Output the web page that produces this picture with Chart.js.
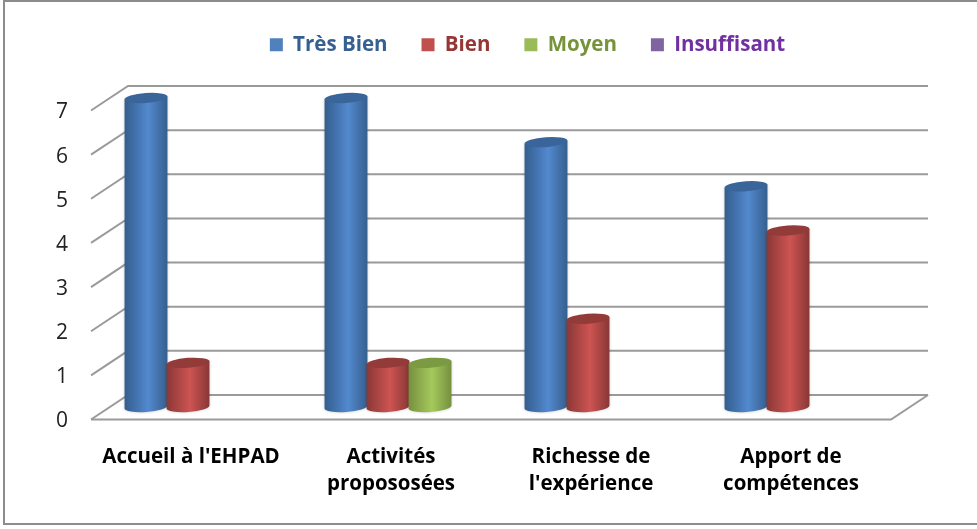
<!DOCTYPE html>
<html lang="fr">
<head>
<meta charset="utf-8">
<title>Accueil EHPAD</title>
<script src="https://cdn.jsdelivr.net/npm/chart.js@4"></script>
<style>
    html, body { margin: 0; padding: 0; background: #fff; }
    canvas { display: block; }
</style>
</head>
<body>
<canvas id="chart" width="977" height="529"></canvas>
<script>
const categories = ["Accueil à l'EHPAD", ['Activités', 'propososées'], ['Richesse de', "l'expérience"], ['Apport de', 'compétences']];
const seriesNames = ['Très Bien', 'Bien', 'Moyen', 'Insuffisant'];
const tresBien = [7, 7, 6, 5];
const bien = [1, 1, 2, 4];
const moyen = [0, 1, 0, 0];
const insuffisant = [0, 0, 0, 0];
const yTicks = [0, 1, 2, 3, 4, 5, 6, 7];

const swatchColors = ['#4f81bd', '#c0504d', '#9bbb59', '#8064a2'];
const legendTextColors = ['#376092', '#953735', '#76933c', '#7030a0'];
// left edge, middle, right edge, top cap
const cylinderColors = [
    ['#335d8d', '#5389cf', '#355f8e', '#39659a'],
    ['#893836', '#cd5452', '#873735', '#933b38'],
    ['#76903f', '#a5c95c', '#75903f', '#7b9a42'],
    ['#5f4a79', '#8a6cae', '#5f4a79', '#664f82']
];

// fake 3D depth: offsets from the bar plane to the back wall and the front edge
const backDx = 19, backDy = -12;
const frontDx = -18, frontDy = 12.5;

function drawCylinder(ctx, bar, colors) {
    // neighbours overlap by a pixel in the original
    const rx = bar.width / 2 + 0.5, ry = 5, tilt = -0.07;
    const gradient = ctx.createLinearGradient(bar.x - rx, 0, bar.x + rx, 0);
    gradient.addColorStop(0, colors[0]);
    gradient.addColorStop(0.55, colors[1]);
    gradient.addColorStop(1, colors[2]);

    ctx.save();
    ctx.shadowColor = 'rgba(0,0,0,0.22)';
    ctx.shadowBlur = 3;
    ctx.beginPath();
    ctx.ellipse(bar.x, bar.base, rx, ry, tilt, 0, Math.PI);
    ctx.lineTo(bar.x - rx * Math.cos(tilt), bar.y - rx * Math.sin(tilt));
    ctx.lineTo(bar.x + rx * Math.cos(tilt), bar.y + rx * Math.sin(tilt));
    ctx.closePath();
    ctx.fillStyle = gradient;
    ctx.fill();
    ctx.restore();

    ctx.beginPath();
    ctx.ellipse(bar.x, bar.y, rx, ry, tilt, 0, Math.PI * 2);
    ctx.fillStyle = colors[3];
    ctx.fill();
}

const cylinder3d = {
    id: 'cylinder3d',
    afterLayout(chart) {
        // legend sits right of centre in the original
        chart.legend.left += 73;
        chart.legend.right += 73;
        chart.legend.top -= 33;
        chart.legend.bottom -= 33;
    },
    beforeDraw(chart) {
        const ctx = chart.ctx;
        ctx.save();
        ctx.strokeStyle = '#8c8c8c';
        ctx.lineWidth = 2;
        ctx.strokeRect(4, 1, 985, 523);
        ctx.restore();
    },
    beforeDatasetsDraw(chart) {
        const ctx = chart.ctx;
        const area = chart.chartArea;
        const y = chart.scales.y;

        ctx.save();
        ctx.lineWidth = 2;
        ctx.strokeStyle = '#9a9a9a';
        yTicks.forEach(v => {
            const py = y.getPixelForValue(v);
            ctx.beginPath();
            ctx.moveTo(area.left + frontDx, py + frontDy);
            ctx.lineTo(area.left + backDx, py + backDy);
            ctx.lineTo(area.right + backDx, py + backDy);
            ctx.stroke();
        });
        const py0 = y.getPixelForValue(0);
        ctx.beginPath();
        ctx.moveTo(area.left + frontDx, py0 + frontDy);
        ctx.lineTo(area.right + frontDx, py0 + frontDy);
        ctx.lineTo(area.right + backDx, py0 + backDy);
        ctx.stroke();
        ctx.restore();

        categories.forEach((c, i) => {
            chart.data.datasets.forEach((ds, d) => {
                if (!ds.data[i]) return;
                const bar = chart.getDatasetMeta(d).data[i];
                drawCylinder(ctx, bar, cylinderColors[d]);
            });
        });
        return false;
    }
};

new Chart(document.getElementById('chart').getContext('2d'), {
    type: 'bar',
    plugins: [cylinder3d],
    data: {
        labels: categories,
        datasets: [tresBien, bien, moyen, insuffisant].map((values, i) => ({
            label: seriesNames[i],
            data: values,
            backgroundColor: swatchColors[i],
            categoryPercentage: 0.84,
            barPercentage: 1
        }))
    },
    options: {
        responsive: false,
        animation: false,
        layout: { autoPadding: false, padding: { top: 33.5, right: 68, bottom: 0, left: 0 } },
        plugins: {
            tooltip: { enabled: false },
            legend: {
                position: 'top',
                maxHeight: 90,
                labels: {
                    boxWidth: 13,
                    boxHeight: 13,
                    padding: 34,
                    font: { family: 'Open Sans', weight: 'bold', size: 20.5 },
                    generateLabels: chart => Chart.defaults.plugins.legend.labels.generateLabels(chart)
                        .map((item, i) => ({ ...item, fontColor: legendTextColors[i] }))
                }
            }
        },
        scales: {
            x: {
                grid: { display: false, drawTicks: false },
                border: { display: false },
                afterFit: s => { s.height = 122; },
                ticks: {
                    color: '#000',
                    padding: 37,
                    labelOffset: -18,
                    maxRotation: 0,
                    autoSkip: false,
                    font: { family: 'Open Sans', weight: 'bold', size: 20.5, lineHeight: 1.32 }
                }
            },
            y: {
                min: 0,
                max: 7,
                grid: { display: false, drawTicks: false },
                border: { display: false },
                afterFit: s => { s.width = 109; },
                ticks: {
                    stepSize: 1,
                    color: '#222',
                    padding: 41,
                    labelOffset: 14.5,
                    font: { family: 'Open Sans', size: 21 }
                }
            }
        }
    }
});
</script>
</body>
</html>
